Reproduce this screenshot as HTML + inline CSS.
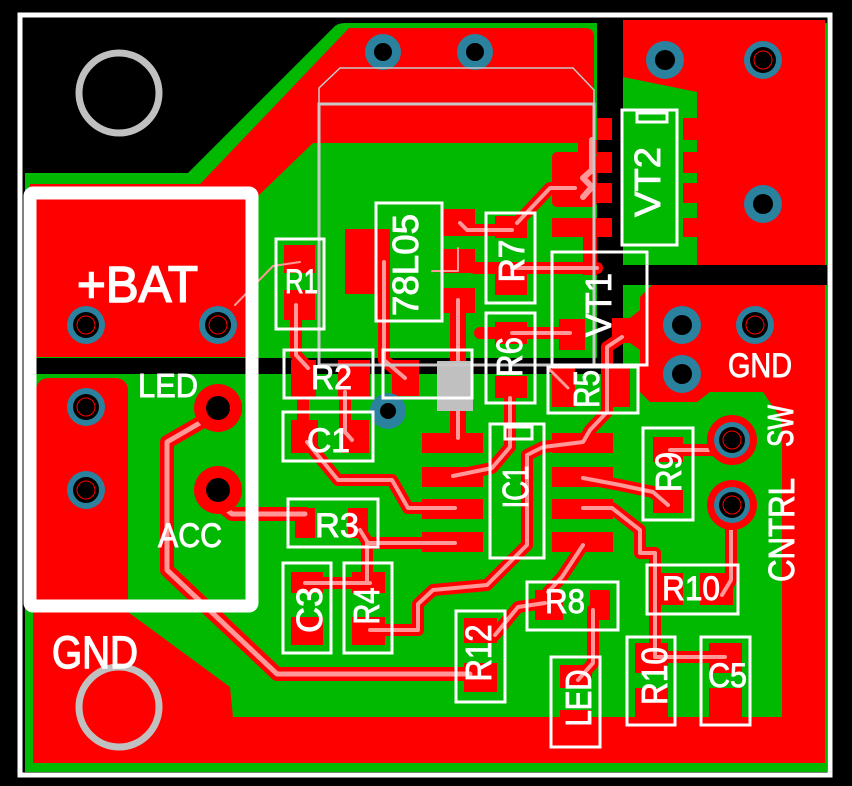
<!DOCTYPE html>
<html><head><meta charset="utf-8"><style>
html,body{margin:0;padding:0;background:#000;}
svg{display:block}
text{font-family:"Liberation Sans",sans-serif;fill:#fff;stroke:#fff;stroke-width:0.9;}
.rt{fill:none;stroke:#ff0000;stroke-width:12;stroke-linejoin:round;stroke-linecap:round}
.pk{fill:none;stroke:#ff9898;stroke-width:4;stroke-linejoin:round;stroke-linecap:round}
.sk{fill:none;stroke:#fff;stroke-width:3}
</style></head><body>
<svg width="852" height="786" viewBox="0 0 852 786" xmlns="http://www.w3.org/2000/svg">
<rect width="852" height="786" fill="#000"/>
<!-- green base -->
<path d="M25,173 L188,173 L333,28 Q337,23 345,23 L827,23 L827,772 L25,772 Z" fill="#00b900"/>
<!-- black gaps -->
<rect x="597" y="18" width="26" height="355" fill="#000"/>
<rect x="597" y="265" width="232" height="20" fill="#000"/>
<rect x="30" y="358" width="585" height="16" fill="#000"/>

<!-- red copper regions -->
<path d="M30,184 L200,184 L349,28 L585,28 Q594,28 594,37 L594,143 L313,143 L258,196 L258,200 L30,200 Z" fill="#f00"/>
<rect x="36" y="199" width="210" height="158" fill="#f00"/>
<path d="M623,20 L825,20 L825,265 L697,265 L697,92 L623,77 Z" fill="#f00"/>
<polygon points="640,297 652,285 825,285 825,717 782,717 782,420 763,392 710,392 697,402 650,402 640,392 640,350 630,343 612,343 612,318 630,318 640,310" fill="#f00"/>
<polygon points="33,612 128,612 230,687 233,717 825,717 825,763 33,763" fill="#f00"/>
<rect x="36" y="378" width="92" height="240" rx="12" fill="#f00"/>

<!-- SMD pads -->
<g fill="#f00">
<rect x="284" y="245" width="31" height="28"/><rect x="284" y="290" width="31" height="30"/>
<rect x="345" y="229" width="45" height="65"/>
<rect x="443" y="209" width="32" height="27"/><rect x="443" y="249" width="32" height="24"/><rect x="443" y="288" width="32" height="25"/>
<rect x="495" y="216" width="32" height="22"/><rect x="495" y="270" width="32" height="25"/>
<rect x="495" y="322" width="32" height="22"/><rect x="495" y="376" width="32" height="22"/>
<rect x="291" y="360" width="25" height="38"/><rect x="338" y="360" width="32" height="38"/>
<rect x="392" y="360" width="27" height="36"/>
<rect x="559" y="319" width="26" height="31"/>
<rect x="552" y="368" width="23" height="39"/><rect x="607" y="368" width="23" height="39"/>
<rect x="291" y="420" width="27" height="33"/><rect x="342" y="420" width="27" height="33"/>
<rect x="295" y="508" width="20" height="30"/><rect x="348" y="508" width="20" height="30"/>
<rect x="291" y="572" width="32" height="21"/><rect x="291" y="617" width="32" height="28"/>
<rect x="352" y="572" width="33" height="21"/><rect x="352" y="617" width="33" height="28"/>
<rect x="422" y="433" width="61" height="20"/><rect x="422" y="467" width="61" height="20"/><rect x="422" y="499" width="61" height="20"/><rect x="422" y="532" width="61" height="20"/>
<rect x="552" y="433" width="61" height="20"/><rect x="552" y="467" width="61" height="20"/><rect x="552" y="499" width="61" height="20"/><rect x="552" y="532" width="61" height="20"/>
<rect x="653" y="437" width="30" height="25"/><rect x="653" y="490" width="30" height="23"/>
<rect x="652" y="573" width="31" height="32"/><rect x="700" y="573" width="33" height="32"/>
<rect x="535" y="590" width="28" height="30"/><rect x="590" y="590" width="20" height="30"/>
<rect x="464" y="618" width="33" height="25"/><rect x="464" y="663" width="33" height="29"/>
<rect x="560" y="665" width="32" height="23"/><rect x="560" y="710" width="32" height="30"/>
<rect x="635" y="643" width="33" height="30"/><rect x="635" y="688" width="33" height="35"/>
<rect x="709" y="643" width="33" height="30"/><rect x="709" y="688" width="33" height="35"/>
<rect x="578" y="140" width="19" height="14"/>
<rect x="552" y="152" width="45" height="55" rx="5"/>
<rect x="552" y="218" width="45" height="19"/>
<rect x="583" y="235" width="14" height="40"/>
<rect x="597" y="118" width="15" height="22"/><rect x="597" y="152" width="15" height="21"/><rect x="597" y="183" width="15" height="20"/><rect x="597" y="218" width="15" height="19"/>
<rect x="683" y="118" width="14" height="22"/><rect x="683" y="152" width="14" height="21"/><rect x="683" y="183" width="14" height="20"/><rect x="683" y="218" width="14" height="19"/>
</g>

<!-- traces red -->
<g class="rt">
<path d="M205,420 L167,442 L167,570 L277,674 L470,674" style="stroke-width:14"/>
<path d="M222,506 L232,514 L305,514" style="stroke-width:14"/>
<path d="M360,530 L368,543 L455,543"/>
<path d="M367,543 L367,583"/>
<path d="M307,442 L338,480 L392,480 L408,508 L455,508"/>
<path d="M305,583 L370,583"/>
<path d="M370,630 L418,630 L418,604 L433,590 L487,585 L527,545 L527,455 L543,447 L583,442 L590,430 L607,412 L607,347 L622,337"/>
<path d="M583,478 L620,485 L653,492 L668,505"/>
<path d="M583,508 L612,508 L640,530 L640,553 L655,553 L655,657 L725,657"/>
<path d="M731,520 L731,580 L722,595"/>
<path d="M712,450 L670,450"/>
<path d="M545,603 L518,607 L495,635"/>
<path d="M593,610 L593,663 L578,680"/>
<path d="M583,545 L562,577 L548,592"/>
<path d="M296,305 L296,355 L308,368"/>
<path d="M384,262 L384,360 L405,378"/>
<path d="M458,300 L458,360" style="stroke-width:16"/>
<path d="M458,410 L458,438" style="stroke-width:16"/>
<path d="M345,392 L345,432 L352,440"/>
<path d="M303,398 L303,420"/>
<path d="M460,223 L467,230 L515,230"/>
<path d="M517,223 L550,188 L575,188"/>
<path d="M475,268 L597,268"/>
<path d="M480,333 L570,333"/>
<path d="M510,398 L510,447 L492,468 L453,476"/>
</g>
<!-- traces pink centre -->
<g class="pk">
<path d="M205,420 L167,442 L167,570 L277,674 L470,674" style="stroke-width:5"/>
<path d="M222,506 L232,514 L305,514" style="stroke-width:5"/>
<path d="M360,530 L368,543 L455,543"/>
<path d="M367,543 L367,583"/>
<path d="M307,442 L338,480 L392,480 L408,508 L455,508"/>
<path d="M305,583 L370,583"/>
<path d="M370,630 L418,630 L418,604 L433,590 L487,585 L527,545 L527,455 L543,447 L583,442 L590,430 L607,412 L607,347 L622,337"/>
<path d="M583,478 L620,485 L653,492 L668,505"/>
<path d="M583,508 L612,508 L640,530 L640,553 L655,553 L655,657 L725,657"/>
<path d="M731,520 L731,580 L722,595"/>
<path d="M712,450 L670,450"/>
<path d="M545,603 L518,607 L495,635"/>
<path d="M593,610 L593,663 L578,680"/>
<path d="M583,545 L562,577 L548,592"/>
<path d="M296,305 L296,355 L308,368"/>
<path d="M384,262 L384,360 L405,378"/>
<path d="M458,300 L458,360"/>
<path d="M458,410 L458,438"/>
<path d="M345,392 L345,432 L352,440"/>
<path d="M460,223 L467,230 L512,230"/>
<path d="M517,223 L550,188 L575,188"/>
<path d="M512,268 L597,268"/>
<path d="M512,333 L570,333"/>
<path d="M510,398 L510,447 L492,468 L453,476"/>
<path d="M592,140 L592,170 L583,178 L592,187 L583,197" style="stroke-width:6"/>
<path d="M235,305 L273,266 L300,262" style="stroke-width:2"/>
<path d="M432,271 L458,271 L458,248" style="stroke-width:2"/>
<path d="M548,368 L568,388" style="stroke-width:3"/>
</g>

<!-- through-hole pads / vias -->
<g>
<circle cx="218" cy="408" r="24" fill="#f00"/><circle cx="218" cy="408" r="12" fill="#000"/>
<circle cx="218" cy="490" r="24" fill="#f00"/><circle cx="218" cy="490" r="12" fill="#000"/>
<circle cx="732" cy="440" r="25" fill="#f00"/><circle cx="732" cy="505" r="25" fill="#f00"/>
</g>
<g fill="#2a829f">
<circle cx="86" cy="325" r="19"/><circle cx="218" cy="325" r="19"/>
<circle cx="86" cy="407" r="19"/><circle cx="86" cy="490" r="19"/>
<circle cx="383" cy="52" r="18"/><circle cx="475" cy="52" r="18"/>
<circle cx="665" cy="60" r="19"/><circle cx="763" cy="60" r="19"/><circle cx="763" cy="204" r="19"/>
<circle cx="682" cy="325" r="19"/><circle cx="755" cy="325" r="19"/><circle cx="682" cy="374" r="19"/>
<circle cx="732" cy="440" r="18"/><circle cx="732" cy="505" r="18"/>
<circle cx="388" cy="411" r="18"/>
</g>
<g fill="#000">
<circle cx="86" cy="325" r="13"/><circle cx="218" cy="325" r="13"/>
<circle cx="86" cy="407" r="13"/><circle cx="86" cy="490" r="13"/>
<circle cx="383" cy="52" r="9"/><circle cx="475" cy="52" r="9"/>
<circle cx="665" cy="60" r="10"/><circle cx="763" cy="60" r="13"/><circle cx="763" cy="204" r="10"/>
<circle cx="682" cy="325" r="10"/><circle cx="755" cy="325" r="13"/><circle cx="682" cy="374" r="10"/>
<circle cx="732" cy="440" r="13"/><circle cx="732" cy="505" r="13"/>
<circle cx="388" cy="411" r="8"/>
</g>
<g fill="none" stroke="#f00" stroke-width="1">
<circle cx="86" cy="325" r="9"/><circle cx="218" cy="325" r="9"/>
<circle cx="86" cy="407" r="9"/><circle cx="86" cy="490" r="9"/>
<circle cx="763" cy="60" r="9"/><circle cx="755" cy="325" r="9"/>
<circle cx="732" cy="440" r="9"/><circle cx="732" cy="505" r="9"/>
</g>

<!-- grey -->
<rect x="437" y="361" width="36" height="50" fill="#c0c0c0"/>
<rect x="319" y="104" width="275" height="261" fill="none" stroke="#c8c8c8" stroke-width="3"/>
<polyline points="319,104 319,88 340,68 573,68 594,90 594,104" fill="none" stroke="#c8c8c8" stroke-width="1.5"/>
<circle cx="119" cy="93" r="40" fill="none" stroke="#c0c0c0" stroke-width="7"/>
<circle cx="119" cy="707" r="40" fill="none" stroke="#c0c0c0" stroke-width="7"/>

<!-- board outline -->
<rect x="20" y="15" width="810" height="760" fill="none" stroke="#fff" stroke-width="5"/>
<!-- connector silk -->
<rect x="30" y="193" width="222" height="413" rx="3" fill="none" stroke="#fff" stroke-width="13"/>

<!-- component silk boxes -->
<g class="sk">
<rect x="276" y="239" width="48" height="90"/>
<rect x="284" y="350" width="89" height="48"/>
<rect x="376" y="203" width="66" height="118"/>
<rect x="383" y="350" width="89" height="48"/>
<rect x="486" y="213" width="49" height="90"/>
<rect x="486" y="313" width="49" height="90"/>
<rect x="552" y="252" width="95" height="113"/>
<rect x="622" y="110" width="55" height="135"/>
<rect x="637" y="113" width="30" height="9"/>
<rect x="548" y="367" width="90" height="46"/>
<rect x="283" y="412" width="90" height="49"/>
<rect x="288" y="499" width="90" height="48"/>
<rect x="283" y="563" width="48" height="90"/>
<rect x="344" y="563" width="48" height="90"/>
<rect x="490" y="424" width="54" height="134"/>
<rect x="505" y="427" width="27" height="12"/>
<rect x="643" y="428" width="50" height="92"/>
<rect x="647" y="565" width="91" height="49"/>
<rect x="527" y="582" width="91" height="48"/>
<rect x="456" y="611" width="49" height="91"/>
<rect x="551" y="657" width="49" height="90"/>
<rect x="627" y="637" width="48" height="88"/>
<rect x="701" y="637" width="49" height="88"/>
</g>

<!-- horizontal labels -->
<text x="77" y="302" font-size="51" textLength="121" lengthAdjust="spacingAndGlyphs" style="stroke-width:1.6">+BAT</text>
<text x="138" y="397" font-size="33" textLength="60" lengthAdjust="spacingAndGlyphs">LED</text>
<text x="158" y="547" font-size="34" textLength="64" lengthAdjust="spacingAndGlyphs">ACC</text>
<text x="52" y="668" font-size="45" textLength="86" lengthAdjust="spacingAndGlyphs" style="stroke-width:1.4">GND</text>
<text x="728" y="377" font-size="34" textLength="64" lengthAdjust="spacingAndGlyphs">GND</text>
<text x="285" y="293" font-size="34" textLength="33" lengthAdjust="spacingAndGlyphs">R1</text>
<text x="311" y="389" font-size="34" textLength="41" lengthAdjust="spacingAndGlyphs">R2</text>
<text x="307" y="452" font-size="34" textLength="43" lengthAdjust="spacingAndGlyphs">C1</text>
<text x="315" y="537" font-size="34" textLength="44" lengthAdjust="spacingAndGlyphs">R3</text>
<text x="662" y="600" font-size="34" textLength="58" lengthAdjust="spacingAndGlyphs">R10</text>
<text x="545" y="613" font-size="34" textLength="40" lengthAdjust="spacingAndGlyphs">R8</text>
<text x="708" y="687" font-size="34" textLength="39" lengthAdjust="spacingAndGlyphs">C5</text>

<!-- vertical labels -->
<g font-size="36" text-anchor="middle">
<text transform="translate(405,265) rotate(-90)" y="13" textLength="102" lengthAdjust="spacingAndGlyphs">78L05</text>
<text transform="translate(511,261) rotate(-90)" y="13" textLength="43" lengthAdjust="spacingAndGlyphs">R7</text>
<text transform="translate(509,357) rotate(-90)" y="13" textLength="40" lengthAdjust="spacingAndGlyphs">R6</text>
<text transform="translate(598,305) rotate(-90)" y="13" textLength="64" lengthAdjust="spacingAndGlyphs">VT1</text>
<text transform="translate(647,182) rotate(-90)" y="13" textLength="70" lengthAdjust="spacingAndGlyphs">VT2</text>
<text transform="translate(586,389) rotate(-90)" y="13" textLength="38" lengthAdjust="spacingAndGlyphs">R5</text>
<text transform="translate(309,610) rotate(-90)" y="13" textLength="46" lengthAdjust="spacingAndGlyphs">C3</text>
<text transform="translate(366,606) rotate(-90)" y="13" textLength="37" lengthAdjust="spacingAndGlyphs">R4</text>
<text transform="translate(515,487) rotate(-90)" y="13" textLength="43" lengthAdjust="spacingAndGlyphs">IC1</text>
<text transform="translate(668,472) rotate(-90)" y="13" textLength="40" lengthAdjust="spacingAndGlyphs">R9</text>
<text transform="translate(478,653) rotate(-90)" y="13" textLength="57" lengthAdjust="spacingAndGlyphs">R12</text>
<text transform="translate(578,698) rotate(-90)" y="13" textLength="57" lengthAdjust="spacingAndGlyphs">LED</text>
<text transform="translate(654,676) rotate(-90)" y="13" textLength="58" lengthAdjust="spacingAndGlyphs">R10</text>
<text transform="translate(780,426) rotate(-90)" y="13" textLength="42" lengthAdjust="spacingAndGlyphs">SW</text>
<text transform="translate(781,530) rotate(-90)" y="13" textLength="104" lengthAdjust="spacingAndGlyphs">CNTRL</text>
</g>
</svg>
</body></html>
